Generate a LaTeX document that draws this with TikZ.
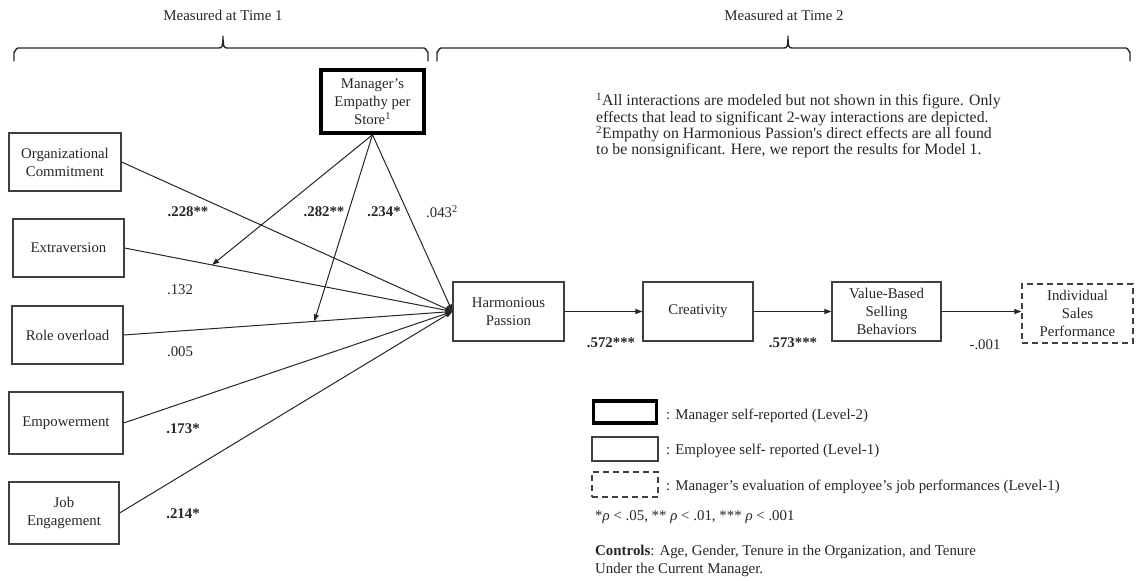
\documentclass[tikz,border=0pt]{standalone}
\usepackage{fontspec}
\setmainfont{Liberation Serif}
\usetikzlibrary{arrows.meta,calc}
\begin{document}
\begin{tikzpicture}[x=1pt,y=-1pt,
  every node/.style={text=black!85},
  txt/.style={font=\fontsize{14.9}{18}\selectfont},
  box/.style={draw=black!75, line width=1.2pt, inner sep=0pt, align=center,
    font=\fontsize{14.8}{18}\selectfont},
  mgrbox/.style={box, draw=black, line width=3.5pt},
  dashbox/.style={box, dashed, dash pattern=on 6pt off 4pt},
  lab/.style={font=\fontsize{14.8}{17}\selectfont, inner sep=0pt},
  blab/.style={lab, font=\fontsize{14.8}{17}\selectfont\bfseries},
  conn/.style={draw=black!85, line width=1pt, -{Triangle[length=7pt,width=5pt]}},
  brace/.style={draw=black!85, line width=1.4pt, line cap=round, line join=round},
]
\useasboundingbox (0,0) rectangle (1136,581);

% period headings and braces
\node[txt] (t1) at (223,15) {Measured at Time 1};
\node[txt] (t2) at (784,15) {Measured at Time 2};
\draw[brace] (14,61) -- (14,52) to[out=-90,in=180] (18,48) -- (219,48)
  .. controls (222,48) and (223,47) .. (223,36)
  .. controls (223,47) and (224,48) .. (227,48) -- (424,48)
  to[out=0,in=-90] (428,52) -- (428,61);
\draw[brace] (437,61) -- (437,52) to[out=-90,in=180] (441,48) -- (784,48)
  .. controls (787,48) and (788,47) .. (788,36)
  .. controls (788,47) and (789,48) .. (792,48) -- (1126,48)
  to[out=0,in=-90] (1130,52) -- (1130,61);

% boxes
\node[mgrbox, minimum width=103pt, minimum height=63pt] (mgr) at (372.5,101.5)
  {Manager's\\Empathy per\\Store\textsuperscript{1}};
\node[box, minimum width=112pt, minimum height=58pt] (oc) at (65,162) {Organizational\\Commitment};
\node[box, minimum width=111pt, minimum height=58pt] (ex) at (68.5,248) {Extraversion};
\node[box, minimum width=111pt, minimum height=58pt] (ro) at (67.5,335) {Role overload};
\node[box, minimum width=114pt, minimum height=62pt] (em) at (66,423) {Empowerment};
\node[box, minimum width=110pt, minimum height=62pt] (je) at (64,513) {Job\\Engagement};
\node[box, minimum width=111pt, minimum height=59pt] (hp) at (508.5,311.5) {Harmonious\\Passion};
\node[box, minimum width=110pt, minimum height=59pt] (cr) at (698,311.5) {Creativity};
\node[box, minimum width=109pt, minimum height=59pt] (vb) at (886.5,311.5) {Value-Based\\Selling\\Behaviors};
\node[dashbox, minimum width=111pt, minimum height=59pt] (isp) at (1077.5,313.5) {Individual\\Sales\\Performance};

% paths into harmonious passion
\draw[conn] (oc.east) -- (hp.west);
\draw[conn] (ex.east) -- (hp.west);
\draw[conn] (ro.east) -- (hp.west);
\draw[conn] (em.east) -- (hp.west);
\draw[conn] (je.east) -- (hp.west);
\draw[conn] (mgr.south) -- (hp.west);

% moderation arrows
\coordinate (mx) at ($(ex.east)!0.267!(hp.west)$);
\coordinate (mr) at ($(ro.east)!0.58!(hp.west)$);
\draw[conn] (mgr.south) -- (mx);
\draw[conn] (mgr.south) -- (mr);

% chain
\draw[conn] (hp.east) -- (cr.west);
\draw[conn] (cr.east) -- (vb.west);
\draw[conn] (vb.east) -- (isp.west |- vb.east);

% coefficients
\node[blab] (c1) at (188,212) {.228**};
\node[blab] (c2) at (324,212) {.282**};
\node[blab] (c3) at (384,212) {.234*};
\node[lab]  (c4) at (442,212) {.043\textsuperscript{2}};
\node[lab]  (c5) at (180,290) {.132};
\node[lab]  (c6) at (180,352) {.005};
\node[blab] (c7) at (183,429) {.173*};
\node[blab] (c8) at (183,514) {.214*};
\node[blab] (c9) at (611,343) {.572***};
\node[blab] (c10) at (793,343) {.573***};
\node[lab]  (c11) at (985,345) {-.001};

% notes
\node[txt, font=\fontsize{15.8}{16.4}\selectfont, anchor=north west, align=left, inner sep=0pt] (notes) at (596,93)
  {\textsuperscript{1}All interactions are modeled but not shown in this figure. Only\\
   effects that lead to significant 2-way interactions are depicted.\\
   \textsuperscript{2}Empathy on Harmonious Passion\textquotesingle s direct effects are all found\\
   to be nonsignificant. Here, we report the results for Model 1.};

% legend
\node[mgrbox, minimum width=63pt, minimum height=22pt] (lg1) at (625,412) {};
\node[box, minimum width=66pt, minimum height=24pt] (lg2) at (625,449) {};
\node[dashbox, minimum width=66pt, minimum height=25pt] (lg3) at (625,484.5) {};
\node[txt, anchor=west, inner sep=0pt] (lt1) at (666,416) {: Manager self-reported (Level-2)};
\node[txt, anchor=west, inner sep=0pt] (lt2) at (666,451) {: Employee self- reported (Level-1)};
\node[txt, anchor=west, inner sep=0pt] (lt3) at (666,487) {: Manager's evaluation of employee's job performances (Level-1)};
\node[txt, anchor=west, inner sep=0pt] (sig) at (595,517)
  {*\textit{ρ} < .05, ** \textit{ρ} < .01, *** \textit{ρ} < .001};
\node[txt, anchor=north west, align=left, inner sep=0pt] (ctl) at (595,545)
  {\textbf{Controls}: Age, Gender, Tenure in the Organization, and Tenure\\
   Under the Current Manager.};
\end{tikzpicture}
\end{document}
